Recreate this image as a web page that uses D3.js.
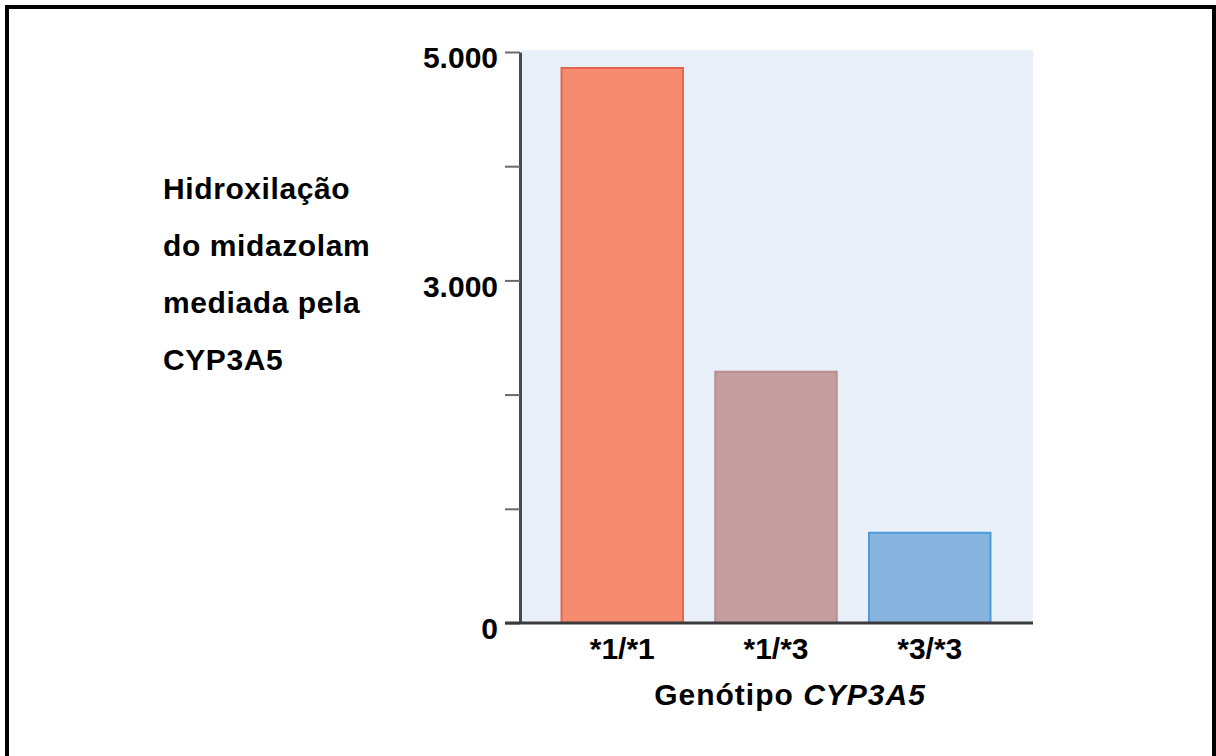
<!DOCTYPE html>
<html>
<head>
<meta charset="utf-8">
<script src="https://cdn.jsdelivr.net/npm/d3@7"></script>
<style>
  body { margin: 0; background: #fff; }
  text { font-family: "Liberation Sans", Arial, sans-serif; font-weight: bold; fill: #000; }
</style>
</head>
<body>
<svg id="chart" width="1216" height="756"></svg>
<script>
// data
var genotypes = ["*1/*1", "*1/*3", "*3/*3"];
var hydroxylation = [4860, 2200, 790];
var barFills = ["#f58b6f", "#c59fa0", "#87b5e0"];
var barStrokes = ["#e5644f", "#b88f91", "#4a9bd8"];
var yTicks = [0, 1000, 2000, 3000, 4000, 5000];
var yTickLabels = [0, 3000, 5000];
var yTitleLines = ["Hidroxilação", "do midazolam", "mediada pela", "CYP3A5"];

var svg = d3.select("#chart");

//plot frame (window.top is reserved, so use own names)
var plotL = 520, plotR = 1032, plotT = 52, plotB = 623;

var ptBR = d3.formatLocale({decimal: ",", thousands: ".", grouping: [3], currency: ["R$", ""]});
var fmt = ptBR.format(",");

var x = d3.scaleBand()
  .domain(genotypes)
  .range([plotL, plotR])
  .paddingInner(0.21)
  .paddingOuter(0.27);

var y = d3.scaleLinear()
  .domain([0, 5000])
  .range([plotB, plotT]);

//outer border
svg.append("rect")
  .attr("x", 7).attr("y", 7)
  .attr("width", 1207).attr("height", 800)
  .attr("fill", "none")
  .attr("stroke", "#000")
  .attr("stroke-width", 4);

//light blue panel
svg.append("rect")
  .attr("x", plotL + 2).attr("y", plotT - 2)
  .attr("width", plotR - plotL - 1).attr("height", plotB - plotT + 2)
  .attr("fill", "#e8eff8");

//bars
svg.selectAll("rect.bar")
  .data(hydroxylation)
  .enter()
  .append("rect")
  .attr("class", "bar")
  .attr("x", function(d, i){ return x(genotypes[i]); })
  .attr("y", function(d){ return y(d); })
  .attr("width", x.bandwidth())
  .attr("height", function(d){ return y(0) - y(d); })
  .attr("fill", function(d, i){ return barFills[i]; })
  .attr("stroke", function(d, i){ return barStrokes[i]; })
  .attr("stroke-width", 2);

//y axis
var yAxis = svg.append("g")
  .attr("transform", "translate(" + plotL + ",0)")
  .call(d3.axisLeft(y)
    .tickValues(yTicks)
    .tickSize(15)
    .tickSizeOuter(0)
    .tickPadding(7)
    .tickFormat(function(d){ return yTickLabels.indexOf(d) >= 0 ? fmt(d) : ""; }));

yAxis.select(".domain").attr("stroke", "#4a4a4a").attr("stroke-width", 3);
yAxis.selectAll(".tick line").attr("stroke", "#6a6a6a").attr("stroke-width", 2);
yAxis.selectAll(".tick text")
  .attr("font-size", 30)
  .attr("dy", "0.52em");
yAxis.attr("font-family", null).attr("font-size", null);

//x axis
var xAxis = svg.append("g")
  .attr("transform", "translate(0," + plotB + ")")
  .call(d3.axisBottom(x).tickSize(0).tickSizeOuter(0).tickPadding(15));

xAxis.select(".domain")
  .attr("d", "M" + (plotL - 15) + ",0H" + (plotR + 1))
  .attr("stroke", "#3a3a3a").attr("stroke-width", 3);
xAxis.selectAll(".tick text").attr("font-size", 30);
xAxis.attr("font-family", null).attr("font-size", null);

//x title
var xTitle = svg.append("text")
  .attr("x", 790).attr("y", 705)
  .attr("text-anchor", "middle")
  .attr("font-size", 30)
  .attr("letter-spacing", 1);
xTitle.append("tspan").text("Genótipo ");
xTitle.append("tspan").attr("font-style", "italic").text("CYP3A5");

//y title
svg.append("g").selectAll("text")
  .data(yTitleLines)
  .enter()
  .append("text")
  .attr("x", 163)
  .attr("y", function(d, i){ return 199 + i * 57; })
  .attr("font-size", 30)
  .attr("letter-spacing", 0.6)
  .text(function(d){ return d; });
</script>
</body>
</html>
